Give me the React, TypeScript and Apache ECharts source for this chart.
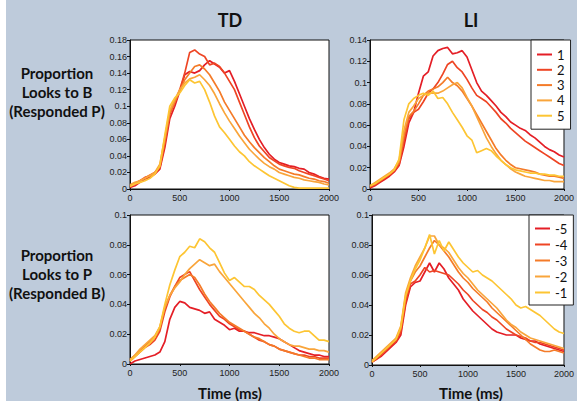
import React, { useEffect, useRef } from "react";
import * as echarts from "echarts";

const TIME = [0, 50, 100, 150, 200, 250, 300, 350, 400, 450, 500, 550, 600, 650, 700, 750, 800, 850, 900, 950, 1000, 1050, 1100, 1150, 1200, 1250, 1300, 1350, 1400, 1450, 1500, 1550, 1600, 1650, 1700, 1750, 1800, 1850, 1900, 1950, 2000];

const COLORS = ["#E41E26", "#EE4524", "#F47B29", "#F9A53B", "#FDC533"];
const NAMES_TOP = ["1", "2", "3", "4", "5"];
const NAMES_BOTTOM = ["-5", "-4", "-3", "-2", "-1"];
const PANEL_TITLES = ["TD", "LI"];
const ROW_LABELS = [["Proportion", "Looks to B", "(Responded P)"], ["Proportion", "Looks to P", "(Responded B)"]];
const X_TITLE = "Time (ms)";
const Y_MAX = [0.18, 0.14, 0.1, 0.1];

// TD, looks to B (responded P)
const TD_TOP_1 = [0.002, 0.004, 0.008, 0.012, 0.014, 0.018, 0.024, 0.05, 0.085, 0.1, 0.118, 0.138, 0.142, 0.14, 0.143, 0.15, 0.155, 0.151, 0.147, 0.14, 0.143, 0.13, 0.115, 0.1, 0.085, 0.072, 0.06, 0.05, 0.042, 0.036, 0.032, 0.03, 0.028, 0.027, 0.025, 0.024, 0.02, 0.018, 0.015, 0.013, 0.012];
const TD_TOP_2 = [0.003, 0.006, 0.01, 0.014, 0.016, 0.02, 0.026, 0.055, 0.09, 0.105, 0.12, 0.14, 0.165, 0.168, 0.163, 0.16, 0.15, 0.152, 0.148, 0.14, 0.13, 0.12, 0.105, 0.09, 0.075, 0.062, 0.052, 0.045, 0.038, 0.034, 0.03, 0.028, 0.026, 0.025, 0.022, 0.02, 0.018, 0.016, 0.014, 0.012, 0.01];
const TD_TOP_3 = [0.004, 0.007, 0.01, 0.013, 0.017, 0.02, 0.027, 0.058, 0.092, 0.105, 0.118, 0.132, 0.14, 0.148, 0.15, 0.145, 0.138, 0.128, 0.118, 0.105, 0.095, 0.085, 0.075, 0.065, 0.057, 0.05, 0.044, 0.038, 0.033, 0.028, 0.024, 0.022, 0.02, 0.018, 0.017, 0.015, 0.013, 0.012, 0.01, 0.009, 0.007];
const TD_TOP_4 = [0.005, 0.008, 0.01, 0.013, 0.016, 0.02, 0.03, 0.062, 0.095, 0.108, 0.12, 0.128, 0.133, 0.135, 0.138, 0.132, 0.125, 0.115, 0.103, 0.092, 0.082, 0.073, 0.064, 0.056, 0.048, 0.042, 0.036, 0.031, 0.027, 0.024, 0.02, 0.018, 0.016, 0.014, 0.013, 0.011, 0.01, 0.009, 0.008, 0.006, 0.005];
const TD_TOP_5 = [0.003, 0.006, 0.008, 0.01, 0.013, 0.018, 0.028, 0.065, 0.1, 0.11, 0.116, 0.125, 0.132, 0.128, 0.13, 0.12, 0.105, 0.088, 0.075, 0.068, 0.06, 0.052, 0.045, 0.04, 0.033, 0.028, 0.024, 0.02, 0.016, 0.013, 0.01, 0.007, 0.004, 0.002, 0.001, 0.001, 0.001, 0.001, 0.001, 0.001, 0.001];

// LI, looks to B (responded P)
const LI_TOP_1 = [0.001, 0.003, 0.006, 0.009, 0.012, 0.016, 0.022, 0.04, 0.062, 0.072, 0.09, 0.106, 0.11, 0.125, 0.13, 0.132, 0.133, 0.127, 0.128, 0.13, 0.124, 0.112, 0.1, 0.092, 0.088, 0.083, 0.078, 0.072, 0.068, 0.063, 0.06, 0.057, 0.055, 0.051, 0.048, 0.044, 0.04, 0.037, 0.035, 0.032, 0.03];
const LI_TOP_2 = [0.002, 0.004, 0.007, 0.01, 0.013, 0.017, 0.023, 0.045, 0.066, 0.072, 0.075, 0.082, 0.09, 0.094, 0.1, 0.108, 0.117, 0.12, 0.114, 0.11, 0.103, 0.095, 0.088, 0.085, 0.082, 0.077, 0.072, 0.066, 0.062, 0.057, 0.053, 0.049, 0.045, 0.042, 0.039, 0.036, 0.033, 0.03, 0.027, 0.024, 0.022];
const LI_TOP_3 = [0.002, 0.005, 0.008, 0.011, 0.014, 0.018, 0.025, 0.05, 0.068, 0.073, 0.08, 0.088, 0.092, 0.094, 0.096, 0.1, 0.105, 0.1, 0.097, 0.092, 0.085, 0.078, 0.07, 0.062, 0.054, 0.046, 0.038, 0.032, 0.027, 0.023, 0.02, 0.019, 0.018, 0.017, 0.016, 0.014, 0.013, 0.012, 0.012, 0.011, 0.01];
const LI_TOP_4 = [0.003, 0.006, 0.009, 0.012, 0.015, 0.019, 0.027, 0.055, 0.072, 0.078, 0.085, 0.088, 0.09, 0.09, 0.09, 0.092, 0.095, 0.098, 0.1, 0.095, 0.086, 0.078, 0.068, 0.058, 0.048, 0.04, 0.033, 0.027, 0.023, 0.019, 0.016, 0.014, 0.012, 0.011, 0.01, 0.009, 0.008, 0.008, 0.007, 0.007, 0.007];
const LI_TOP_5 = [0.003, 0.005, 0.008, 0.011, 0.014, 0.018, 0.028, 0.065, 0.08, 0.085, 0.088, 0.09, 0.088, 0.092, 0.085, 0.086, 0.08, 0.072, 0.065, 0.058, 0.05, 0.046, 0.034, 0.036, 0.038, 0.036, 0.031, 0.027, 0.023, 0.02, 0.018, 0.017, 0.016, 0.015, 0.015, 0.014, 0.014, 0.013, 0.013, 0.012, 0.012];

// TD, looks to P (responded B)
const TD_BOT_M5 = [0.0, 0.002, 0.003, 0.004, 0.005, 0.006, 0.008, 0.015, 0.03, 0.038, 0.042, 0.041, 0.038, 0.037, 0.036, 0.034, 0.035, 0.03, 0.028, 0.026, 0.023, 0.024, 0.022, 0.022, 0.021, 0.021, 0.02, 0.019, 0.019, 0.018, 0.017, 0.015, 0.013, 0.011, 0.009, 0.008, 0.007, 0.006, 0.006, 0.005, 0.005];
const TD_BOT_M4 = [0.002, 0.005, 0.008, 0.011, 0.013, 0.016, 0.022, 0.035, 0.045, 0.052, 0.058, 0.06, 0.062, 0.056, 0.05, 0.045, 0.04, 0.036, 0.032, 0.03, 0.027, 0.025, 0.023, 0.022, 0.02, 0.018, 0.016, 0.015, 0.013, 0.012, 0.01, 0.009, 0.008, 0.007, 0.006, 0.006, 0.005, 0.005, 0.004, 0.004, 0.004];
const TD_BOT_M3 = [0.003, 0.006, 0.009, 0.012, 0.015, 0.018, 0.024, 0.038, 0.046, 0.052, 0.056, 0.058, 0.06, 0.058, 0.053, 0.047, 0.042, 0.038, 0.034, 0.031, 0.028, 0.026, 0.024, 0.022, 0.02, 0.018, 0.017, 0.015, 0.013, 0.012, 0.01, 0.009, 0.008, 0.007, 0.006, 0.005, 0.004, 0.004, 0.003, 0.003, 0.003];
const TD_BOT_M2 = [0.003, 0.006, 0.01, 0.013, 0.016, 0.019, 0.025, 0.038, 0.046, 0.051, 0.055, 0.06, 0.064, 0.067, 0.07, 0.068, 0.066, 0.067, 0.062, 0.058, 0.054, 0.05, 0.046, 0.042, 0.038, 0.034, 0.031, 0.027, 0.024, 0.02, 0.017, 0.015, 0.013, 0.012, 0.012, 0.011, 0.01, 0.01, 0.009, 0.009, 0.008];
const TD_BOT_M1 = [0.002, 0.005, 0.008, 0.011, 0.014, 0.018, 0.025, 0.04, 0.053, 0.063, 0.072, 0.075, 0.079, 0.078, 0.084, 0.082, 0.078, 0.075, 0.068, 0.061, 0.056, 0.058, 0.055, 0.052, 0.052, 0.05, 0.046, 0.043, 0.04, 0.036, 0.032, 0.027, 0.024, 0.022, 0.021, 0.022, 0.022, 0.019, 0.016, 0.016, 0.015];

// LI, looks to P (responded B)
const LI_BOT_M5 = [0.002, 0.004, 0.006, 0.009, 0.012, 0.015, 0.02, 0.04, 0.052, 0.055, 0.056, 0.062, 0.068, 0.062, 0.068, 0.064, 0.058, 0.054, 0.05, 0.044, 0.04, 0.036, 0.033, 0.03, 0.027, 0.024, 0.022, 0.021, 0.02, 0.02, 0.02, 0.018, 0.017, 0.016, 0.016, 0.014, 0.013, 0.012, 0.011, 0.01, 0.009];
const LI_BOT_M4 = [0.002, 0.004, 0.007, 0.01, 0.013, 0.016, 0.022, 0.042, 0.054, 0.056, 0.06, 0.065, 0.062, 0.063, 0.062, 0.061, 0.06, 0.057, 0.054, 0.05, 0.047, 0.043, 0.04, 0.037, 0.035, 0.032, 0.03, 0.027, 0.024, 0.022, 0.02, 0.019, 0.018, 0.016, 0.015, 0.015, 0.014, 0.013, 0.012, 0.011, 0.01];
const LI_BOT_M3 = [0.003, 0.005, 0.008, 0.011, 0.014, 0.017, 0.024, 0.045, 0.056, 0.062, 0.066, 0.072, 0.078, 0.083, 0.08, 0.076, 0.072, 0.067, 0.062, 0.058, 0.055, 0.051, 0.048, 0.045, 0.042, 0.038, 0.035, 0.032, 0.029, 0.026, 0.023, 0.02, 0.017, 0.014, 0.012, 0.01, 0.009, 0.009, 0.01, 0.009, 0.008];
const LI_BOT_M2 = [0.003, 0.006, 0.009, 0.012, 0.015, 0.018, 0.026, 0.048, 0.058, 0.066, 0.072, 0.078, 0.086, 0.086, 0.08, 0.078, 0.075, 0.07, 0.065, 0.061, 0.058, 0.054, 0.05, 0.047, 0.044, 0.041, 0.038, 0.034, 0.03, 0.027, 0.025, 0.022, 0.02, 0.018, 0.017, 0.016, 0.015, 0.014, 0.013, 0.012, 0.011];
const LI_BOT_M1 = [0.002, 0.005, 0.008, 0.011, 0.014, 0.017, 0.025, 0.046, 0.056, 0.064, 0.07, 0.078, 0.087, 0.074, 0.083, 0.076, 0.082, 0.077, 0.072, 0.068, 0.065, 0.062, 0.063, 0.06, 0.058, 0.056, 0.053, 0.05, 0.047, 0.044, 0.04, 0.038, 0.039, 0.037, 0.035, 0.033, 0.03, 0.027, 0.024, 0.022, 0.021];

const PANELS = [
  [TD_TOP_1, TD_TOP_2, TD_TOP_3, TD_TOP_4, TD_TOP_5],
  [LI_TOP_1, LI_TOP_2, LI_TOP_3, LI_TOP_4, LI_TOP_5],
  [TD_BOT_M5, TD_BOT_M4, TD_BOT_M3, TD_BOT_M2, TD_BOT_M1],
  [LI_BOT_M5, LI_BOT_M4, LI_BOT_M3, LI_BOT_M2, LI_BOT_M1],
];

const GRIDS = [
  { left: 130, top: 40, width: 199, height: 149 },
  { left: 370, top: 40, width: 198, height: 149 },
  { left: 130, top: 215, width: 199, height: 149 },
  { left: 372, top: 215, width: 199, height: 150 },
];

export default function App() {
  const ref = useRef<HTMLDivElement>(null);
  useEffect(() => {
    if (!ref.current) return;
    const chart = echarts.init(ref.current, null, { renderer: "svg" });
    const tickFont = { fontFamily: "Liberation Sans", fontSize: 9, color: "#222" };
    const series: any[] = [];
    PANELS.forEach((panel, p) => {
      panel.forEach((vals, k) => {
        series.push({
          type: "line",
          name: p < 2 ? NAMES_TOP[k] : NAMES_BOTTOM[k],
          xAxisIndex: p,
          yAxisIndex: p,
          data: TIME.map((t, j) => [t, vals[j]]),
          showSymbol: false,
          symbol: "none",
          lineStyle: { width: 1.7, color: COLORS[k] },
          itemStyle: { color: COLORS[k] },
          z: 2 + k,
        });
      });
    });
    const legendCommon = {
      orient: "vertical",
      backgroundColor: "#fff",
      borderColor: "#222",
      borderWidth: 1,
      borderRadius: 0,
      icon: "rect",
      itemWidth: 15,
      itemHeight: 2,
      textStyle: { fontFamily: "Lato", fontSize: 13, lineHeight: 12, color: "#111" },
      selectedMode: false,
    };
    const graphics: any[] = [
      { type: "rect", shape: { x: 0, y: 0, width: 6, height: 401 }, style: { fill: "#fff" } },
    ];
    const centersX = [230, 471];
    PANEL_TITLES.forEach((t, i) => {
      graphics.push({
        type: "text",
        x: centersX[i],
        y: 20,
        style: { text: t, fontFamily: "Lato", fontWeight: "bold", fontSize: 18, fill: "#111", align: "center", verticalAlign: "middle" },
      });
      graphics.push({
        type: "text",
        x: centersX[i],
        y: 393,
        style: { text: X_TITLE, fontFamily: "Lato", fontWeight: "bold", fontSize: 15, fill: "#111", align: "center", verticalAlign: "middle" },
      });
    });
    const rowY = [[73, 92, 111], [255, 274, 293]];
    ROW_LABELS.forEach((lines, r) => {
      lines.forEach((ln, i) => {
        graphics.push({
          type: "text",
          x: 57,
          y: rowY[r][i],
          style: { text: ln, fontFamily: "Lato", fontWeight: "bold", fontSize: 15, fill: "#111", align: "center", verticalAlign: "middle" },
        });
      });
    });
    chart.setOption({
      animation: false,
      backgroundColor: "#BECBDB",
      grid: GRIDS.map((g) => ({ ...g, show: true, backgroundColor: "#fff", borderColor: "#111", borderWidth: 1, containLabel: false })),
      xAxis: GRIDS.map((_, i) => ({
        type: "value",
        gridIndex: i,
        min: 0,
        max: 2000,
        interval: 500,
        axisLine: { show: true, lineStyle: { color: "#111", width: 1 } },
        axisTick: { show: true, length: 2, lineStyle: { color: "#111" } },
        splitLine: { show: false },
        axisLabel: { ...tickFont, margin: 4, formatter: (v: number) => String(v) },
      })),
      yAxis: GRIDS.map((_, i) => ({
        type: "value",
        gridIndex: i,
        min: 0,
        max: Y_MAX[i],
        interval: 0.02,
        axisLine: { show: true, lineStyle: { color: "#111", width: 1 } },
        axisTick: { show: true, length: 3, lineStyle: { color: "#111" } },
        splitLine: { show: false },
        axisLabel: { ...tickFont, margin: 3, formatter: (v: number) => String(+v.toFixed(2)) },
      })),
      legend: [
        { ...legendCommon, data: NAMES_TOP, left: 531, top: 40, padding: [8, 6, 7, 6], itemGap: 2.3 },
        { ...legendCommon, data: NAMES_BOTTOM, left: 529, top: 215, padding: [7, 6, 6, 6], itemGap: 3 },
      ],
      graphic: graphics,
      series,
    });
    return () => chart.dispose();
  }, []);
  return <div ref={ref} style={{ position: "fixed", left: 0, top: 0, width: 577, height: 401 }} />;
}
